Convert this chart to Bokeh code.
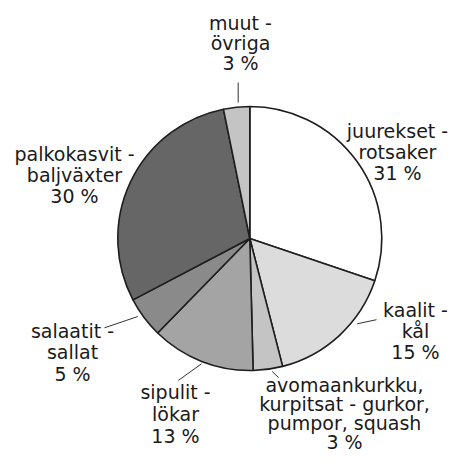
import numpy as np
from bokeh.plotting import figure
from bokeh.models import ColumnDataSource, Range1d
from bokeh.core.properties import value
from bokeh.embed import file_html
from bokeh.resources import INLINE

# ---- data ----
categories = ["juurekset - rotsaker", "kaalit - kål",
              "avomaankurkku, kurpitsat - gurkor, pumpor, squash",
              "sipulit - lökar", "salaatit - sallat",
              "palkokasvit - baljväxter", "muut - övriga"]
shares = [30.2, 15.8, 3.6, 12.7, 5.0, 29.5, 3.2]
label_texts = [
    ["juurekset -", "rotsaker", "31 %"],
    ["kaalit -", "kål", "15 %"],
    ["avomaankurkku,", "kurpitsat - gurkor,", "pumpor, squash", "3 %"],
    ["sipulit -", "lökar", "13 %"],
    ["salaatit -", "sallat", "5 %"],
    ["palkokasvit -", "baljväxter", "30 %"],
    ["muut -", "övriga", "3 %"],
]
colors = ["#ffffff", "#dcdcdc", "#c4c4c4", "#a4a4a4", "#8a8a8a", "#666666", "#c4c4c4"]

# ---- layout (picture pixel coordinates, origin top-left) ----
W, H = 449, 456
cx, cy, R = 249.3, 238.0, 132.0
label_x = [397, 415, 344, 175, 72, 74, 240]
label_y1 = [130, 309.5, 384, 391.5, 330, 153, 22]   # baseline of first line
line_step = [21.3, 21.0, 19.0, 21.8, 21.5, 21.0, 20.3]
leaders = [None,
           ((356.7, 323.3), (376.0, 319.2)),
           ((271.7, 371.0), (278.0, 377.0)),
           ((177.7, 380.0), (201.0, 363.3)),
           ((104.0, 327.3), (137.3, 316.0)),
           None,
           ((237.7, 82.0), (237.7, 102.0))]

def fy(py):
    return H - py

vals = np.array(shares, dtype=float)
frac = vals / vals.sum()
cum = np.concatenate([[0], np.cumsum(frac)])
start = np.pi / 2 - 2 * np.pi * cum[:-1]
end = np.pi / 2 - 2 * np.pi * cum[1:]

p = figure(width=W, height=H, output_backend="svg", toolbar_location=None,
           x_range=Range1d(0, W), y_range=Range1d(0, H), min_border=0)
p.axis.visible = False
p.grid.visible = False
p.outline_line_color = None
p.background_fill_color = "white"
p.border_fill_color = "white"

src = ColumnDataSource(dict(x=[cx] * len(vals), y=[fy(cy)] * len(vals),
                            start=start, end=end, color=colors, name=categories))
p.wedge(x="x", y="y", radius=R, start_angle="start", end_angle="end",
        direction="clock", fill_color="color", line_color="#1e1e1e",
        line_width=1.6, source=src)

# leader lines
for ld in leaders:
    if ld is None:
        continue
    (x0, y0), (x1, y1) = ld
    p.line([x0, x1], [fy(y0), fy(y1)], line_color="#333333", line_width=1)

# labels, one glyph per line
tx, ty, tt = [], [], []
for lines, lx, ly, st in zip(label_texts, label_x, label_y1, line_step):
    for i, t in enumerate(lines):
        tx.append(lx)
        ty.append(fy(ly + i * st))
        tt.append(t)
p.text(x=tx, y=ty, text=tt, text_align="center", text_baseline="alphabetic",
       text_font=value("DejaVu Sans"), text_font_size="19px",
       text_color="#1a1a1a")

open("out.html", "w").write(file_html(p, INLINE))
